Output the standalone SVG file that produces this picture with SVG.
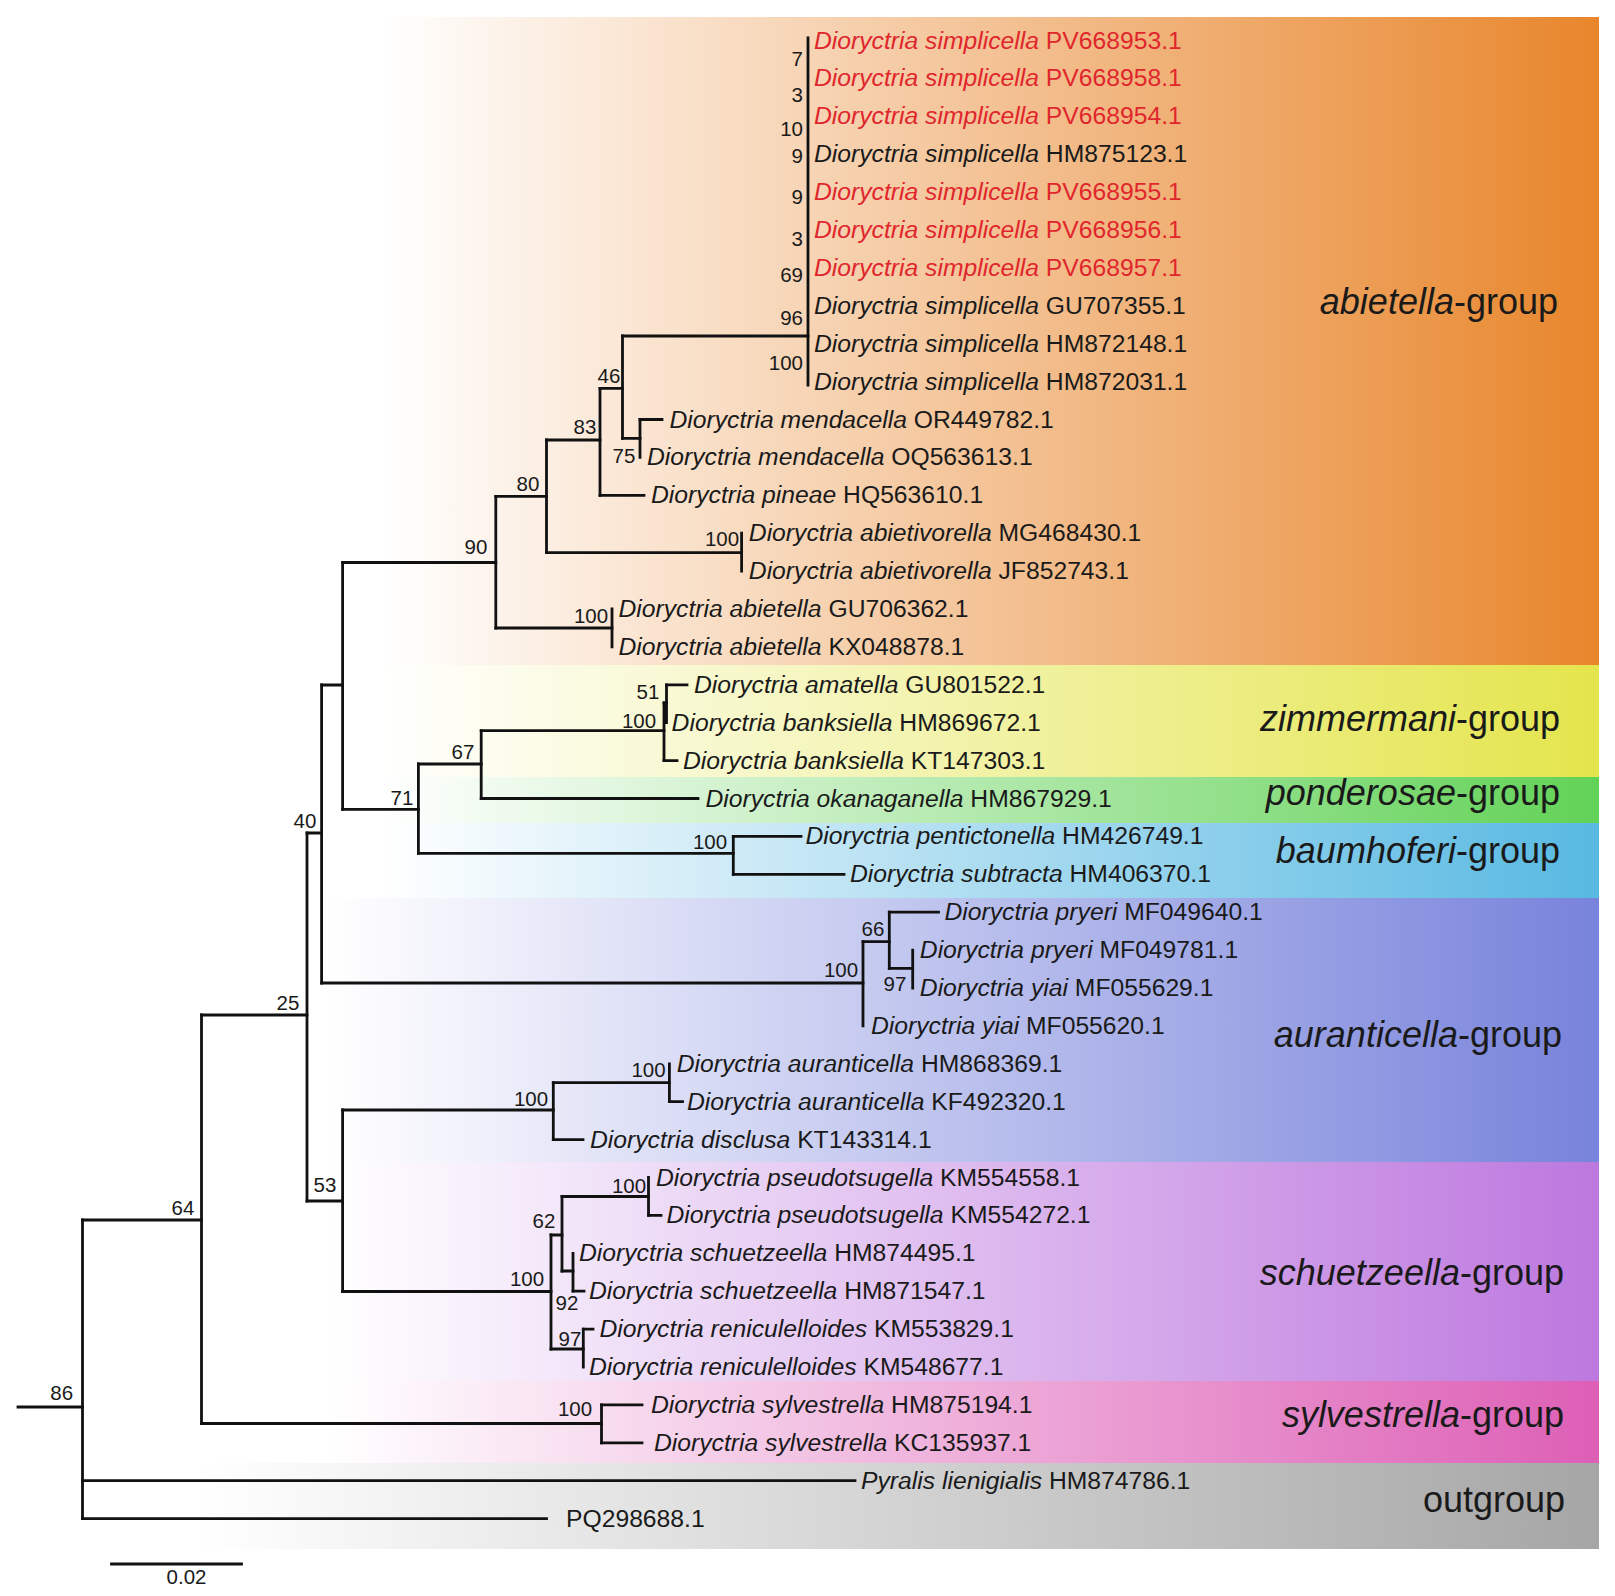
<svg xmlns="http://www.w3.org/2000/svg" width="1615" height="1596" viewBox="0 0 1615 1596">
<style>
text{font-family:"Liberation Sans",Arial,sans-serif;fill:#1a1a1a}
.tip{font-size:24.7px}
.red{fill:#e0262c}
.i{font-style:italic}
.bs{font-size:20.5px;text-anchor:middle}
.bsr{font-size:20.5px;text-anchor:end}
.grp{font-size:36px;text-anchor:end}
.br{fill:none;stroke:#111;stroke-width:2.8;stroke-linecap:square}
</style>
<defs>
<linearGradient id="gAb" gradientUnits="userSpaceOnUse" x1="380" y1="0" x2="1599" y2="0"><stop offset="0" stop-color="#fff"/><stop offset="1" stop-color="#e8862c"/></linearGradient>
<linearGradient id="gZi" gradientUnits="userSpaceOnUse" x1="380" y1="0" x2="1599" y2="0"><stop offset="0" stop-color="#fff"/><stop offset="1" stop-color="#e4e54c"/></linearGradient>
<linearGradient id="gPo" gradientUnits="userSpaceOnUse" x1="380" y1="0" x2="1599" y2="0"><stop offset="0" stop-color="#fff"/><stop offset="1" stop-color="#62d257"/></linearGradient>
<linearGradient id="gBa" gradientUnits="userSpaceOnUse" x1="380" y1="0" x2="1599" y2="0"><stop offset="0" stop-color="#fff"/><stop offset="1" stop-color="#58b9e2"/></linearGradient>
<linearGradient id="gAu" gradientUnits="userSpaceOnUse" x1="330" y1="0" x2="1599" y2="0"><stop offset="0" stop-color="#fff"/><stop offset="1" stop-color="#7883db"/></linearGradient>
<linearGradient id="gSc" gradientUnits="userSpaceOnUse" x1="330" y1="0" x2="1599" y2="0"><stop offset="0" stop-color="#fff"/><stop offset="1" stop-color="#bd78df"/></linearGradient>
<linearGradient id="gSy" gradientUnits="userSpaceOnUse" x1="330" y1="0" x2="1599" y2="0"><stop offset="0" stop-color="#fff"/><stop offset="1" stop-color="#dd5fb6"/></linearGradient>
<linearGradient id="gOu" gradientUnits="userSpaceOnUse" x1="200" y1="0" x2="1599" y2="0"><stop offset="0" stop-color="#fff"/><stop offset="1" stop-color="#a6a6a6"/></linearGradient>
</defs>
<rect width="1615" height="1596" fill="#fff"/>
<g id="bands">
<rect x="20" y="17" width="1579" height="648" fill="url(#gAb)"/>
<rect x="20" y="665" width="1579" height="112" fill="url(#gZi)"/>
<rect x="20" y="777" width="1579" height="46" fill="url(#gPo)"/>
<rect x="20" y="823" width="1579" height="75" fill="url(#gBa)"/>
<rect x="20" y="898" width="1579" height="264" fill="url(#gAu)"/>
<rect x="20" y="1162" width="1579" height="219" fill="url(#gSc)"/>
<rect x="20" y="1381" width="1579" height="82" fill="url(#gSy)"/>
<rect x="20" y="1463" width="1579" height="86" fill="url(#gOu)"/>
</g>
<g id="group-labels">
<text class="grp" x="1558" y="314"><tspan class="i">abietella</tspan>-group</text>
<text class="grp" x="1560" y="731"><tspan class="i">zimmermani</tspan>-group</text>
<text class="grp" x="1560" y="805"><tspan class="i">ponderosae</tspan>-group</text>
<text class="grp" x="1560" y="863"><tspan class="i">baumhoferi</tspan>-group</text>
<text class="grp" x="1562" y="1047"><tspan class="i">auranticella</tspan>-group</text>
<text class="grp" x="1564" y="1285"><tspan class="i">schuetzeella</tspan>-group</text>
<text class="grp" x="1564" y="1427"><tspan class="i">sylvestrella</tspan>-group</text>
<text class="grp" x="1565" y="1512">outgroup</text>
</g>
<g id="branches" class="br">
<path d="M18 1407H82.5M82.5 1220H201.5M82.5 1480.7H855M82.5 1518.6H546.5M201.5 1015H307M201.5 1423.5H601.5M601.5 1404.9H642M601.5 1442.8H642M307 833H321.6M307 1201H342.6M321.6 685H342.6M321.6 983H863M342.6 562.5H495.8M342.6 809.3H418.4M495.8 496.4H546.5M495.8 628H612M546.5 440H600M546.5 552.6H741.6M600 388.3H622.5M600 495.3H644M622.5 336H808M622.5 438.3H640M640 419.5H662M418.4 764H481.2M418.4 853.4H733.3M481.2 730.7H664M481.2 798.5H698M664 703H666.5M666.5 684.8H687M664 760.6H677M733.3 836.4H801M733.3 874.3H844M863 941.7H889.3M889.3 912.2H938.5M889.3 968.3H912.7M342.6 1110H553.3M342.6 1291.5H551M553.3 1082.7H669.4M553.3 1139.6H583M669.4 1101.7H682.5M551 1235H562M551 1349H583.3M562 1196.5H648.5M562 1271H573M648.5 1215.4H661M573 1291.2H584M583.3 1329.1H593"/>
<path d="M82.5 1220V1518.6M201.5 1015V1423.5M601.5 1404.9V1442.8M307 833V1201M321.6 685V983M342.6 562.5V809.3M495.8 496.4V628M546.5 440V552.6M600 388.3V495.3M622.5 336V438.3M808 38V385M640 419.5V457.4M741.6 533.2V571.1M612 609V646.9M418.4 764V853.4M481.2 730.7V798.5M664 703V760.6M666.5 684.8V722.7M733.3 836.4V874.3M863 941.7V1025.9M889.3 912.2V968.3M912.7 950.1V988M342.6 1110V1291.5M553.3 1082.7V1139.6M669.4 1063.8V1101.7M551 1235V1349M562 1196.5V1271M648.5 1177.5V1215.4M573 1253.3V1291.2M583.3 1329.1V1367"/>
<path d="M111.5 1564H241.5"/>
</g>
<g id="support">
<text class="bsr" x="803" y="66">7</text>
<text class="bsr" x="803" y="101.6">3</text>
<text class="bsr" x="803" y="135.6">10</text>
<text class="bsr" x="803" y="163">9</text>
<text class="bsr" x="803" y="204">9</text>
<text class="bsr" x="803" y="246">3</text>
<text class="bsr" x="803" y="282">69</text>
<text class="bsr" x="803" y="325">96</text>
<text class="bsr" x="803" y="369.5">100</text>
<text class="bs" x="61.7" y="1400">86</text>
<text class="bs" x="183" y="1215">64</text>
<text class="bs" x="288" y="1010">25</text>
<text class="bs" x="305" y="828">40</text>
<text class="bs" x="476" y="554">90</text>
<text class="bs" x="528" y="491">80</text>
<text class="bs" x="585" y="434">83</text>
<text class="bs" x="609" y="383">46</text>
<text class="bs" x="624" y="463">75</text>
<text class="bs" x="722" y="546">100</text>
<text class="bs" x="591" y="623">100</text>
<text class="bs" x="648" y="699">51</text>
<text class="bs" x="639" y="728">100</text>
<text class="bs" x="463" y="759">67</text>
<text class="bs" x="402" y="805">71</text>
<text class="bs" x="710" y="849">100</text>
<text class="bs" x="873" y="936">66</text>
<text class="bs" x="895" y="991">97</text>
<text class="bs" x="841" y="977">100</text>
<text class="bs" x="648.5" y="1077">100</text>
<text class="bs" x="531" y="1105.5">100</text>
<text class="bs" x="325" y="1192">53</text>
<text class="bs" x="629" y="1193">100</text>
<text class="bs" x="544" y="1228">62</text>
<text class="bs" x="527" y="1286">100</text>
<text class="bs" x="567" y="1310">92</text>
<text class="bs" x="570" y="1346">97</text>
<text class="bs" x="575" y="1416">100</text>
<text class="bs" x="186.5" y="1584">0.02</text>
</g>
<g id="tip-PV668953"><text class="tip red" x="814" y="48.5"><tspan class="i">Dioryctria simplicella</tspan> PV668953.1</text></g>
<g id="tip-PV668958"><text class="tip red" x="814" y="86.4"><tspan class="i">Dioryctria simplicella</tspan> PV668958.1</text></g>
<g id="tip-PV668954"><text class="tip red" x="814" y="124.3"><tspan class="i">Dioryctria simplicella</tspan> PV668954.1</text></g>
<g id="tip-HM875123"><text class="tip" x="814" y="162.2"><tspan class="i">Dioryctria simplicella</tspan> HM875123.1</text></g>
<g id="tip-PV668955"><text class="tip red" x="814" y="200.1"><tspan class="i">Dioryctria simplicella</tspan> PV668955.1</text></g>
<g id="tip-PV668956"><text class="tip red" x="814" y="238"><tspan class="i">Dioryctria simplicella</tspan> PV668956.1</text></g>
<g id="tip-PV668957"><text class="tip red" x="814" y="275.9"><tspan class="i">Dioryctria simplicella</tspan> PV668957.1</text></g>
<g id="tip-GU707355"><text class="tip" x="814" y="313.8"><tspan class="i">Dioryctria simplicella</tspan> GU707355.1</text></g>
<g id="tip-HM872148"><text class="tip" x="814" y="351.7"><tspan class="i">Dioryctria simplicella</tspan> HM872148.1</text></g>
<g id="tip-HM872031"><text class="tip" x="814" y="389.6"><tspan class="i">Dioryctria simplicella</tspan> HM872031.1</text></g>
<g id="tip-OR449782"><text class="tip" x="669.5" y="427.5"><tspan class="i">Dioryctria mendacella</tspan> OR449782.1</text></g>
<g id="tip-OQ563613"><text class="tip" x="647" y="465.4"><tspan class="i">Dioryctria mendacella</tspan> OQ563613.1</text></g>
<g id="tip-HQ563610"><text class="tip" x="651" y="503.3"><tspan class="i">Dioryctria pineae</tspan> HQ563610.1</text></g>
<g id="tip-MG468430"><text class="tip" x="748.8" y="541.2"><tspan class="i">Dioryctria abietivorella</tspan> MG468430.1</text></g>
<g id="tip-JF852743"><text class="tip" x="748.8" y="579.1"><tspan class="i">Dioryctria abietivorella</tspan> JF852743.1</text></g>
<g id="tip-GU706362"><text class="tip" x="618.5" y="617"><tspan class="i">Dioryctria abietella</tspan> GU706362.1</text></g>
<g id="tip-KX048878"><text class="tip" x="618.5" y="654.9"><tspan class="i">Dioryctria abietella</tspan> KX048878.1</text></g>
<g id="tip-GU801522"><text class="tip" x="694" y="692.8"><tspan class="i">Dioryctria amatella</tspan> GU801522.1</text></g>
<g id="tip-HM869672"><text class="tip" x="671.6" y="730.7"><tspan class="i">Dioryctria banksiella</tspan> HM869672.1</text></g>
<g id="tip-KT147303"><text class="tip" x="683" y="768.6"><tspan class="i">Dioryctria banksiella</tspan> KT147303.1</text></g>
<g id="tip-HM867929"><text class="tip" x="705.5" y="806.5"><tspan class="i">Dioryctria okanaganella</tspan> HM867929.1</text></g>
<g id="tip-HM426749"><text class="tip" x="805.5" y="844.4"><tspan class="i">Dioryctria pentictonella</tspan> HM426749.1</text></g>
<g id="tip-HM406370"><text class="tip" x="850" y="882.3"><tspan class="i">Dioryctria subtracta</tspan> HM406370.1</text></g>
<g id="tip-MF049640"><text class="tip" x="944.5" y="920.2"><tspan class="i">Dioryctria pryeri</tspan> MF049640.1</text></g>
<g id="tip-MF049781"><text class="tip" x="919.8" y="958.1"><tspan class="i">Dioryctria pryeri</tspan> MF049781.1</text></g>
<g id="tip-MF055629"><text class="tip" x="919.8" y="996"><tspan class="i">Dioryctria yiai</tspan> MF055629.1</text></g>
<g id="tip-MF055620"><text class="tip" x="871" y="1033.9"><tspan class="i">Dioryctria yiai</tspan> MF055620.1</text></g>
<g id="tip-HM868369"><text class="tip" x="676.7" y="1071.8"><tspan class="i">Dioryctria auranticella</tspan> HM868369.1</text></g>
<g id="tip-KF492320"><text class="tip" x="687" y="1109.7"><tspan class="i">Dioryctria auranticella</tspan> KF492320.1</text></g>
<g id="tip-KT143314"><text class="tip" x="590" y="1147.6"><tspan class="i">Dioryctria disclusa</tspan> KT143314.1</text></g>
<g id="tip-KM554558"><text class="tip" x="656" y="1185.5"><tspan class="i">Dioryctria pseudotsugella</tspan> KM554558.1</text></g>
<g id="tip-KM554272"><text class="tip" x="666.4" y="1223.4"><tspan class="i">Dioryctria pseudotsugella</tspan> KM554272.1</text></g>
<g id="tip-HM874495"><text class="tip" x="579" y="1261.3"><tspan class="i">Dioryctria schuetzeella</tspan> HM874495.1</text></g>
<g id="tip-HM871547"><text class="tip" x="589" y="1299.2"><tspan class="i">Dioryctria schuetzeella</tspan> HM871547.1</text></g>
<g id="tip-KM553829"><text class="tip" x="599.5" y="1337.1"><tspan class="i">Dioryctria reniculelloides</tspan> KM553829.1</text></g>
<g id="tip-KM548677"><text class="tip" x="589" y="1375"><tspan class="i">Dioryctria reniculelloides</tspan> KM548677.1</text></g>
<g id="tip-HM875194"><text class="tip" x="651" y="1412.9"><tspan class="i">Dioryctria sylvestrella</tspan> HM875194.1</text></g>
<g id="tip-KC135937"><text class="tip" x="654" y="1450.8"><tspan class="i">Dioryctria sylvestrella</tspan> KC135937.1</text></g>
<g id="tip-HM874786"><text class="tip" x="861" y="1488.7"><tspan class="i">Pyralis lienigialis</tspan> HM874786.1</text></g>
<g id="tip-PQ298688"><text class="tip" x="566" y="1526.6">PQ298688.1</text></g>
</svg>
